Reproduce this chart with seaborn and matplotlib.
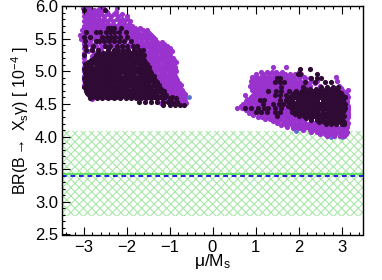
import pandas as pd
import matplotlib
import matplotlib.pyplot as plt
import seaborn as sns
from matplotlib.ticker import MultipleLocator

matplotlib.use('Agg')

# band and central values of the measurement
band_low = 2.78
band_high = 4.08
exp_value = 3.43
sm_value = 3.40

# scan points: (BR, [mu/Ms, ...])
blue_rows = [
    (4.60, [-0.62, -0.54]),
    (4.08, [1.95, 2.3, 2.65]),
    (4.00, [2.75, 3.0]),
]

purple_left = [
    (5.97, [-3.02, -2.95, -2.88, -2.62, -2.55, -2.22]),
    (5.91, [-3.0, -2.91, -2.82, -2.71, -2.6, -2.46, -2.25]),
    (5.84, [-2.98, -2.88, -2.78, -2.66, -2.52, -2.36, -2.2, -1.98]),
    (5.77, [-3.0, -2.9, -2.8, -2.7, -2.58, -2.45, -2.31, -2.16, -2.05, -1.93]),
    (5.70, [-3.0, -2.9, -2.79, -2.7, -2.6, -2.5, -2.38, -2.25, -2.12, -2.0, -1.88]),
    (5.63, [-3.04, -2.93, -2.82, -2.7, -2.58, -2.46, -2.34, -2.22, -2.1, -1.98, -1.86, -1.75, -1.62, -1.52]),
    (5.56, [-3.07, -2.96, -2.85, -2.72, -2.6, -2.48, -2.36, -2.24, -2.12, -2.0, -1.88, -1.76, -1.64, -1.54, -1.42]),
    (5.49, [-3.05, -2.94, -2.82, -2.7, -2.56, -2.42, -2.28, -2.14, -2.02, -1.9, -1.78, -1.66, -1.55, -1.44, -1.33]),
    (5.42, [-3.0, -2.88, -2.74, -2.6, -2.44, -2.28, -2.1, -1.95, -1.82, -1.7, -1.58, -1.46, -1.35, -1.24, -1.12]),
    (5.35, [-2.98, -2.8, -2.6, -2.4, -2.2, -2.0, -1.82, -1.68, -1.56, -1.44, -1.33, -1.22, -1.1, -1.0]),
    (5.28, [-3.0, -2.75, -2.5, -2.2, -1.9, -1.65, -1.53, -1.42, -1.32, -1.2, -1.1, -0.98]),
    (5.21, [-2.98, -2.6, -2.2, -1.8, -1.55, -1.44, -1.34, -1.24, -1.13, -1.02, -0.93]),
    (5.14, [-3.0, -2.5, -2.0, -1.6, -1.5, -1.38, -1.27, -1.16, -1.05, -0.94, -0.86]),
    (5.07, [-2.98, -2.4, -1.8, -1.52, -1.4, -1.3, -1.18, -1.08, -0.98, -0.88]),
    (5.00, [-3.0, -2.2, -1.6, -1.44, -1.33, -1.22, -1.12, -1.02, -0.92, -0.86]),
    (4.93, [-2.98, -2.0, -1.5, -1.38, -1.27, -1.17, -1.06, -0.96, -0.87]),
    (4.86, [-3.0, -1.8, -1.42, -1.3, -1.2, -1.1, -1.0, -0.9, -0.83]),
    (4.79, [-2.98, -1.6, -1.3, -1.2, -1.1, -1.0, -0.9, -0.8, -0.74]),
    (4.72, [-2.95, -1.5, -1.22, -1.12, -1.02, -0.92, -0.82, -0.72]),
    (4.65, [-2.9, -1.4, -1.1, -1.0, -0.9, -0.8, -0.7, -0.65]),
    (4.58, [-2.8, -1.3, -1.05, -0.95, -0.85, -0.75, -0.66]),
    (4.52, [-1.2, -1.0, -0.9, -0.8, -0.7, -0.62]),
]

# in between the rows above, where the cloud closes up
purple_left_fill = [
    (5.94, [-2.96, -2.86, -2.76, -2.66, -2.53]),
    (5.87, [-2.94, -2.83, -2.72, -2.59, -2.44, -2.28, -2.1]),
    (5.80, [-2.95, -2.85, -2.75, -2.64, -2.52, -2.38, -2.23, -2.1, -1.98]),
    (5.73, [-2.95, -2.84, -2.74, -2.64, -2.54, -2.43, -2.31, -2.18, -2.06, -1.94]),
    (5.66, [-2.98, -2.87, -2.76, -2.64, -2.52, -2.4, -2.28, -2.16, -2.04, -1.92, -1.8, -1.68]),
    (5.59, [-3.0, -2.88, -2.76, -2.64, -2.52, -2.4, -2.28, -2.16, -2.04, -1.92, -1.8, -1.7, -1.58, -1.47]),
    (5.52, [-3.0, -2.88, -2.76, -2.64, -2.5, -2.36, -2.2, -2.08, -1.96, -1.84, -1.72, -1.6, -1.49, -1.38]),
    (5.45, [-2.98, -2.85, -2.7, -2.5, -2.35, -2.2, -2.05, -1.88, -1.76, -1.64, -1.52, -1.4, -1.29, -1.18]),
    (5.38, [-2.95, -2.7, -2.5, -2.3, -2.1, -1.9, -1.75, -1.62, -1.5, -1.38, -1.28, -1.16, -1.05]),
    (5.31, [-2.9, -2.6, -2.3, -2.0, -1.8, -1.6, -1.48, -1.37, -1.26, -1.15, -1.04, -0.95]),
    (5.24, [-2.8, -2.4, -2.0, -1.68, -1.5, -1.39, -1.29, -1.18, -1.07, -0.98]),
    (5.17, [-2.7, -2.2, -1.7, -1.56, -1.44, -1.32, -1.21, -1.1, -1.0, -0.9]),
    (5.10, [-2.45, -1.9, -1.58, -1.45, -1.34, -1.24, -1.12, -1.02, -0.92]),
    (5.03, [-1.7, -1.5, -1.38, -1.27, -1.16, -1.06, -0.96, -0.87]),
    (4.96, [-1.55, -1.42, -1.32, -1.2, -1.1, -1.0, -0.9]),
    (4.89, [-1.45, -1.35, -1.25, -1.14, -1.04, -0.94, -0.85]),
    (4.82, [-1.36, -1.25, -1.15, -1.05, -0.95, -0.85, -0.77]),
    (4.75, [-1.26, -1.16, -1.06, -0.96, -0.86, -0.76]),
    (4.68, [-1.15, -1.05, -0.95, -0.85, -0.75, -0.68]),
    (4.61, [-1.2, -1.0, -0.9, -0.8, -0.7]),
    (4.55, [-1.1, -0.95, -0.85, -0.75, -0.65]),
]

dark_left = [
    (5.94, [-2.98, -2.5]),
    (5.66, [-2.44, -2.36, -2.28, -2.12]),
    (5.60, [-2.95, -2.72, -2.62, -2.47, -2.38, -2.28, -2.18, -2.02]),
    (5.53, [-2.98, -2.85, -2.56, -2.46, -2.37, -2.26, -2.14, -1.98]),
    (5.46, [-2.96, -2.7, -2.64, -2.52, -2.4, -2.3, -2.18, -2.06, -1.9]),
    (5.39, [-2.96, -2.78, -2.5, -2.38, -2.22, -2.1, -1.98, -1.85, -1.75]),
    (5.32, [-2.94, -2.8, -2.66, -2.44, -2.3, -2.2, -2.08, -1.96, -1.83, -1.7, -1.62]),
    (5.25, [-2.98, -2.72, -2.6, -2.5, -2.4, -2.28, -2.17, -2.06, -1.95, -1.84, -1.72, -1.6]),
    (5.18, [-2.82, -2.7, -2.6, -2.5, -2.38, -2.28, -2.16, -2.05, -1.94, -1.82, -1.7, -1.6]),
    (5.11, [-2.96, -2.84, -2.72, -2.62, -2.5, -2.4, -2.3, -2.18, -2.08, -1.96, -1.84, -1.72, -1.62, -1.52]),
    (5.04, [-2.98, -2.86, -2.74, -2.62, -2.52, -2.4, -2.3, -2.2, -2.08, -1.98, -1.86, -1.76, -1.64, -1.52]),
    (4.97, [-2.96, -2.85, -2.74, -2.62, -2.5, -2.4, -2.28, -2.18, -2.06, -1.95, -1.84, -1.72, -1.62, -1.5, -1.42]),
    (4.90, [-2.98, -2.87, -2.75, -2.64, -2.52, -2.42, -2.3, -2.2, -2.08, -1.97, -1.86, -1.74, -1.64, -1.52, -1.4]),
    (4.83, [-2.97, -2.86, -2.74, -2.62, -2.5, -2.4, -2.28, -2.18, -2.06, -1.96, -1.84, -1.74, -1.62, -1.5, -1.38, -1.3]),
    (4.76, [-2.98, -2.87, -2.76, -2.64, -2.53, -2.42, -2.3, -2.2, -2.08, -1.98, -1.86, -1.75, -1.64, -1.52, -1.42, -1.3]),
    (4.70, [-2.94, -2.83, -2.72, -2.6, -2.5, -2.38, -2.27, -2.16, -2.04, -1.94, -1.82, -1.72, -1.6, -1.48, -1.36, -1.24, -1.12]),
    (4.64, [-2.88, -2.76, -2.64, -2.52, -2.4, -2.3, -2.18, -2.06, -1.96, -1.84, -1.74, -1.62, -1.52, -1.4, -1.28, -1.08]),
    (4.59, [-2.84, -2.68, -2.56, -2.44, -2.3, -2.16, -2.02, -1.9, -1.78, -1.66, -1.54, -1.42, -1.3, -1.18, -1.0, -0.86]),
    (4.53, [-1.72, -1.56, -1.42, -1.28, -1.16, -1.04, -0.94, -0.82]),
    (4.48, [-1.14, -1.0, -0.88, -0.76, -0.67]),
]

dark_left_fill = [
    (5.28, [-2.66, -2.54, -2.43, -2.33, -2.22, -2.11, -2.0, -1.89, -1.78, -1.66]),
    (5.21, [-2.76, -2.65, -2.55, -2.44, -2.33, -2.22, -2.1, -2.0, -1.88, -1.76, -1.65]),
    (5.14, [-2.9, -2.77, -2.66, -2.56, -2.45, -2.34, -2.23, -2.12, -2.0, -1.88, -1.77, -1.66, -1.56]),
    (5.07, [-2.92, -2.8, -2.68, -2.57, -2.46, -2.35, -2.24, -2.13, -2.02, -1.91, -1.8, -1.69, -1.58, -1.47]),
    (5.00, [-2.92, -2.8, -2.68, -2.56, -2.45, -2.34, -2.23, -2.12, -2.01, -1.9, -1.79, -1.68, -1.57, -1.46]),
    (4.93, [-2.92, -2.8, -2.69, -2.57, -2.46, -2.36, -2.24, -2.14, -2.02, -1.91, -1.8, -1.68, -1.58, -1.46, -1.36]),
    (4.86, [-2.92, -2.8, -2.69, -2.57, -2.46, -2.35, -2.24, -2.12, -2.01, -1.9, -1.79, -1.68, -1.57, -1.45, -1.34]),
    (4.79, [-2.92, -2.8, -2.68, -2.58, -2.46, -2.35, -2.23, -2.13, -2.02, -1.91, -1.8, -1.69, -1.58, -1.47, -1.36, -1.25]),
    (4.73, [-2.9, -2.78, -2.67, -2.56, -2.45, -2.34, -2.22, -2.1, -1.99, -1.88, -1.77, -1.66, -1.55, -1.44, -1.32, -1.2]),
    (4.67, [-2.92, -2.8, -2.69, -2.57, -2.46, -2.34, -2.23, -2.12, -2.0, -1.89, -1.78, -1.67, -1.56, -1.45, -1.33, -1.18]),
    (4.61, [-2.8, -2.7, -2.6, -2.48, -2.36, -2.24, -2.12, -1.99, -1.87, -1.72, -1.6, -1.48, -1.36, -1.23, -1.1, -0.94]),
]

purple_right = [
    (5.06, [1.4, 1.72]),
    (4.99, [1.12, 1.26, 1.38, 1.48, 1.62, 2.0]),
    (4.92, [0.92, 1.02, 1.12, 1.22, 1.32, 1.42, 1.52, 1.62, 1.74, 1.86, 2.0, 2.12, 2.88]),
    (4.85, [0.9, 1.0, 1.1, 1.2, 1.3, 1.4, 1.5, 1.6, 1.7, 1.8, 1.92, 2.04, 2.16, 2.3, 2.44, 2.9]),
    (4.78, [0.88, 0.98, 1.08, 1.18, 1.28, 1.38, 1.48, 1.58, 1.68, 1.78, 1.9, 2.0, 2.12, 2.26, 2.5, 2.95]),
    (4.71, [0.92, 1.02, 1.12, 1.22, 1.32, 1.42, 1.52, 1.62, 1.72, 1.82, 1.92, 2.02, 3.0, 3.14]),
    (4.64, [0.76, 0.94, 1.04, 1.14, 1.24, 1.34, 1.44, 1.54, 1.64, 1.74, 1.84, 3.06, 3.12]),
    (4.57, [0.8, 0.9, 1.0, 1.1, 1.2, 1.3, 1.4, 1.5, 1.6, 1.7, 1.78, 3.1]),
    (4.50, [0.72, 0.82, 0.92, 1.02, 1.12, 1.22, 1.32, 1.42, 1.52, 1.62, 1.72, 3.12]),
    (4.43, [0.56, 0.68, 0.8, 0.92, 1.02, 1.12, 1.22, 1.32, 1.42, 1.52, 1.62, 1.72, 3.16]),
    (4.36, [0.86, 0.96, 1.06, 1.16, 1.26, 1.36, 1.46, 1.56, 1.66, 1.76, 3.14]),
    (4.30, [1.06, 1.16, 1.28, 1.4, 1.5, 1.6, 1.7, 1.8, 1.92, 3.14]),
    (4.24, [1.4, 1.52, 1.64, 1.76, 1.88, 2.0, 2.12, 3.1]),
    (4.18, [1.6, 1.72, 1.84, 1.96, 2.08, 2.2, 2.32, 2.44, 3.12]),
    (4.13, [1.88, 2.0, 2.12, 2.24, 2.36, 2.48, 2.6, 2.72, 2.84, 2.96, 3.08]),
    (4.07, [2.3, 2.42, 2.54, 2.66, 2.78, 2.9, 3.02, 3.12]),
    (4.01, [2.66, 2.82, 2.96, 3.06]),
]

purple_right_fill = [
    (4.96, [1.02, 1.17, 1.32, 1.44, 1.55, 1.68, 1.8, 1.92, 2.06]),
    (4.89, [0.95, 1.05, 1.15, 1.25, 1.35, 1.45, 1.55, 1.66, 1.78, 1.9, 2.02, 2.14, 2.26]),
    (4.82, [0.93, 1.03, 1.13, 1.23, 1.33, 1.43, 1.53, 1.63, 1.73, 1.84, 1.96, 2.08, 2.2, 2.38]),
    (4.75, [0.97, 1.07, 1.17, 1.27, 1.37, 1.47, 1.57, 1.67, 1.77, 1.87, 1.97, 2.07, 2.2, 2.98]),
    (4.68, [0.98, 1.08, 1.18, 1.28, 1.38, 1.48, 1.58, 1.68, 1.78, 1.88, 1.98, 3.02, 3.1]),
    (4.61, [0.9, 0.99, 1.09, 1.19, 1.29, 1.39, 1.49, 1.59, 1.69, 1.79, 3.08, 3.15]),
    (4.54, [0.77, 0.86, 0.96, 1.06, 1.16, 1.26, 1.36, 1.46, 1.56, 1.66, 1.76, 3.12]),
    (4.47, [0.66, 0.76, 0.87, 0.97, 1.07, 1.17, 1.27, 1.37, 1.47, 1.57, 1.67, 1.77, 3.14]),
    (4.40, [0.78, 0.9, 1.0, 1.11, 1.21, 1.31, 1.41, 1.51, 1.61, 1.71, 1.81, 3.15]),
    (4.33, [0.95, 1.1, 1.22, 1.34, 1.45, 1.55, 1.65, 1.75, 1.85, 3.16]),
    (4.27, [1.22, 1.34, 1.46, 1.58, 1.7, 1.82, 1.94, 2.06, 3.12]),
    (4.21, [1.5, 1.66, 1.78, 1.9, 2.02, 2.14, 2.26, 2.38, 2.5, 3.14]),
    (4.15, [1.74, 1.92, 2.06, 2.18, 2.3, 2.42, 2.54, 2.66, 2.78, 2.9, 3.02, 3.12]),
    (4.10, [2.1, 2.26, 2.38, 2.5, 2.62, 2.74, 2.86, 2.98, 3.1]),
    (4.04, [2.5, 2.62, 2.74, 2.86, 2.98, 3.1]),
]

dark_right = [
    (5.03, [2.04, 2.26]),
    (4.96, [1.98, 2.03, 2.44]),
    (4.90, [1.5, 1.58, 2.3, 2.42, 2.52]),
    (4.83, [1.46, 1.56, 1.66, 2.16, 2.38, 2.62, 2.76]),
    (4.76, [1.6, 2.1, 2.52, 2.66, 2.8, 2.92]),
    (4.70, [1.3, 1.48, 1.6, 1.78, 1.94, 2.08, 2.2, 2.34, 2.46, 2.58, 2.7, 2.82, 2.92]),
    (4.63, [1.46, 1.58, 1.72, 1.84, 1.98, 2.1, 2.2, 2.32, 2.44, 2.56, 2.68, 2.8, 2.92, 3.02]),
    (4.56, [1.1, 1.2, 1.56, 1.72, 1.86, 1.98, 2.08, 2.2, 2.32, 2.44, 2.56, 2.68, 2.8, 2.92, 3.04]),
    (4.50, [1.18, 1.4, 1.54, 1.64, 1.8, 1.92, 2.02, 2.14, 2.26, 2.38, 2.5, 2.62, 2.74, 2.86, 2.98, 3.07]),
    (4.44, [0.76, 0.9, 1.06, 1.2, 1.3, 1.46, 1.6, 1.82, 1.92, 2.04, 2.16, 2.28, 2.4, 2.52, 2.64, 2.76, 2.88, 3.0, 3.08]),
    (4.38, [1.0, 1.12, 1.26, 1.46, 1.58, 1.84, 1.96, 2.08, 2.2, 2.32, 2.44, 2.56, 2.68, 2.8, 2.92, 3.04]),
    (4.32, [1.5, 2.0, 2.12, 2.24, 2.36, 2.48, 2.6, 2.72, 2.84, 2.96, 3.06]),
    (4.26, [2.3, 2.42, 2.54, 2.66, 2.78, 2.9, 3.02]),
    (4.20, [2.64, 2.76, 2.88, 3.0, 3.06]),
]

dark_right_fill = [
    (4.73, [2.14, 2.27, 2.4, 2.52, 2.64, 2.76, 2.88]),
    (4.66, [1.9, 2.03, 2.15, 2.26, 2.38, 2.5, 2.62, 2.74, 2.86, 2.98]),
    (4.60, [1.78, 1.92, 2.04, 2.14, 2.26, 2.38, 2.5, 2.62, 2.74, 2.86, 2.98, 3.07]),
    (4.53, [1.75, 1.86, 1.97, 2.08, 2.2, 2.32, 2.44, 2.56, 2.68, 2.8, 2.92, 3.04]),
    (4.47, [1.75, 1.87, 1.98, 2.1, 2.22, 2.34, 2.46, 2.58, 2.7, 2.82, 2.94, 3.05]),
    (4.41, [1.88, 1.98, 2.1, 2.22, 2.34, 2.46, 2.58, 2.7, 2.82, 2.94, 3.06]),
    (4.35, [1.92, 2.04, 2.16, 2.28, 2.4, 2.52, 2.64, 2.76, 2.88, 3.0]),
    (4.29, [2.18, 2.3, 2.42, 2.54, 2.66, 2.78, 2.9, 3.02]),
    (4.23, [2.48, 2.6, 2.72, 2.84, 2.96, 3.05]),
]


def rows_to_frame(rows):
    xs = []
    ys = []
    for y, row in rows:
        xs.extend(row)
        ys.extend([y] * len(row))
    return pd.DataFrame({'mu': xs, 'br': ys})


plt.rcParams['font.family'] = ['Liberation Sans', 'DejaVu Sans']
plt.rcParams['mathtext.fontset'] = 'custom'
plt.rcParams['mathtext.rm'] = 'Liberation Sans'
plt.rcParams['mathtext.it'] = 'Liberation Sans'
plt.rcParams['hatch.linewidth'] = 0.8

fig = plt.figure(figsize=(3.82, 2.8), dpi=100)
ax = fig.add_axes([62 / 382, 1 - 234.5 / 280, 301 / 382, 228.5 / 280])

ax.fill_between([-3.5, 3.5], band_low, band_high, facecolor='none', edgecolor='#a8e8a8', hatch='xxxx', linewidth=0)

sns.scatterplot(data=rows_to_frame(blue_rows), x='mu', y='br', color='#5a6fd0', s=12, linewidth=0, ax=ax)
sns.scatterplot(data=rows_to_frame(purple_left + purple_left_fill), x='mu', y='br', color='#9a32cd', s=14, linewidth=0, ax=ax)
sns.scatterplot(data=rows_to_frame(purple_right + purple_right_fill), x='mu', y='br', color='#9a32cd', s=14, linewidth=0, ax=ax)
sns.scatterplot(data=rows_to_frame(dark_left + dark_left_fill), x='mu', y='br', color='#2f0a35', s=14, linewidth=0, ax=ax)
sns.scatterplot(data=rows_to_frame(dark_right + dark_right_fill), x='mu', y='br', color='#2f0a35', s=14, linewidth=0, ax=ax)

ax.axhline(exp_value, color='#66dd66', lw=1.6)
ax.axhline(sm_value, color='#1010e0', lw=1.3, dashes=(2.6, 2.1))

ax.set_xlim(-3.5, 3.5)
ax.set_ylim(2.5, 6.0)
ax.xaxis.set_major_locator(MultipleLocator(1))
ax.xaxis.set_minor_locator(MultipleLocator(0.2))
ax.yaxis.set_major_locator(MultipleLocator(0.5))
ax.yaxis.set_minor_locator(MultipleLocator(0.1))
ax.tick_params(which='both', direction='in', top=True, right=False, width=0.8, labelsize=12)
ax.tick_params(which='major', length=5.5)
ax.tick_params(which='minor', length=2.5)
ax.tick_params(axis='x', pad=4)
ax.tick_params(axis='y', pad=3)
for side in ax.spines.values():
    side.set_linewidth(1.0)

ax.set_xlabel(r'$\mu$/M$_{\mathrm{s}}$', fontsize=12.5, labelpad=-2)
ax.set_ylabel(r'BR(B$\rightarrow$ X$_{\mathrm{s}}\gamma$) [ 10$^{-4}$ ]', fontsize=11.5, labelpad=3)

plt.savefig('out.png', dpi=100)
plt.close()
